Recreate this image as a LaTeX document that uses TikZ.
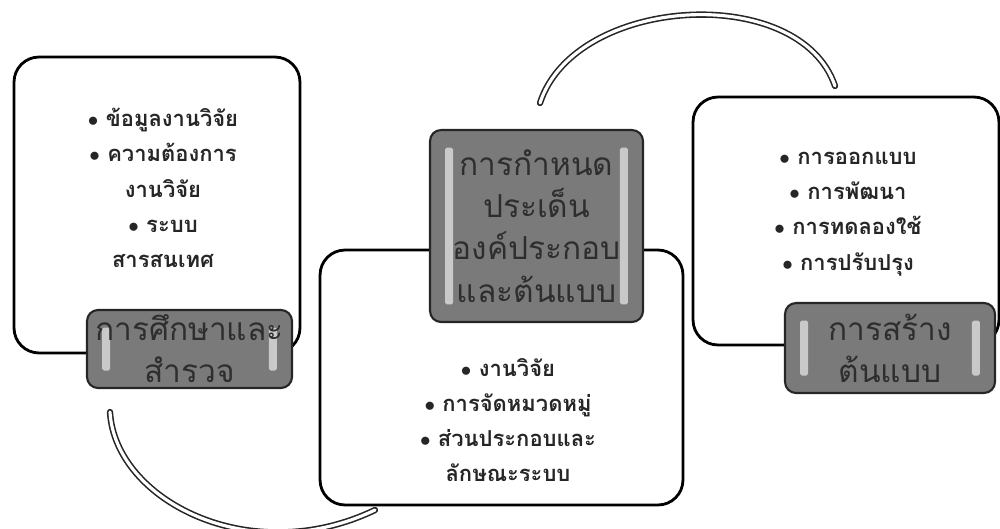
\documentclass[tikz,border=0pt]{standalone}
\usepackage{fontspec}
\newfontfamily\thaifont[Script=Thai]{Loma}

\begin{document}
\begin{tikzpicture}[x=0.02cm, y=-0.02cm,
	box/.style={draw=black, line width=1.6pt, rounded corners=0.5cm, fill=white, inner sep=0pt},
	tab/.style={draw=black!85, line width=1.2pt, rounded corners=0.22cm, fill=black!52,
		inner sep=0pt, align=center, text=black!82, font=\thaifont\fontsize{18}{24}\selectfont,
		path picture={
			\fill[white, opacity=.6, rounded corners=1pt]
				([xshift=0.3cm, yshift=-0.35cm]path picture bounding box.north west) rectangle
				([xshift=0.46cm, yshift=0.35cm]path picture bounding box.south west);
			\fill[white, opacity=.6, rounded corners=1pt]
				([xshift=-0.3cm, yshift=-0.35cm]path picture bounding box.north east) rectangle
				([xshift=-0.46cm, yshift=0.35cm]path picture bounding box.south east);
		}},
	items/.style={align=center, text=black!85, font=\thaifont\bfseries\fontsize{12.5}{20}\selectfont},
	link/.style={draw=black!85, line width=0.9pt, double=white, double distance=1.8pt, line cap=round}]

	\useasboundingbox (0,0) rectangle (1000,528);

	% left step
	\node[box, minimum width=5.72cm, minimum height=5.92cm] (lbox) at (157,205) {};
	\node[items] (litems) at (163,188) {$\bullet$ ข้อมูลงานวิจัย\\$\bullet$ ความต้องการ\\งานวิจัย\\$\bullet$ ระบบ\\สารสนเทศ};
	\node[tab, minimum width=4.1cm, minimum height=1.56cm] (ltab) at (189.5,349) {การศึกษาและ\\สำรวจ};

	% middle step
	\node[box, minimum width=7.26cm, minimum height=5.1cm] (mbox) at (501.5,377.5) {};
	\node[items] (mitems) at (508,420) {$\bullet$ งานวิจัย\\$\bullet$ การจัดหมวดหมู่\\$\bullet$ ส่วนประกอบและ\\ลักษณะระบบ};
	\node[tab, minimum width=4.26cm, minimum height=3.84cm] (mtab) at (536.5,226) {การกำหนด\\ประเด็น\\องค์ประกอบ\\และต้นแบบ};

	% right step
	\node[box, minimum width=6.12cm, minimum height=4.96cm] (rbox) at (846,221) {};
	\node[items] (ritems) at (848,214) {$\bullet$ การออกแบบ\\$\bullet$ การพัฒนา\\$\bullet$ การทดลองใช้\\$\bullet$ การปรับปรุง};
	\node[tab, minimum width=4.2cm, minimum height=1.8cm] (rtab) at (890,348) {การสร้าง\\ต้นแบบ};

	% arcs
	\coordinate (lend) at (110,412);
	\coordinate (mstart) at (375,510);
	\coordinate (mend) at (540,103);
	\coordinate (rstart) at (835,86);

	\path[link] (lend) .. controls (115,500) and (250,570) .. (mstart);
	\path[link] (mend) .. controls (575,-5) and (800,-18) .. (rstart);

\end{tikzpicture}
\end{document}
